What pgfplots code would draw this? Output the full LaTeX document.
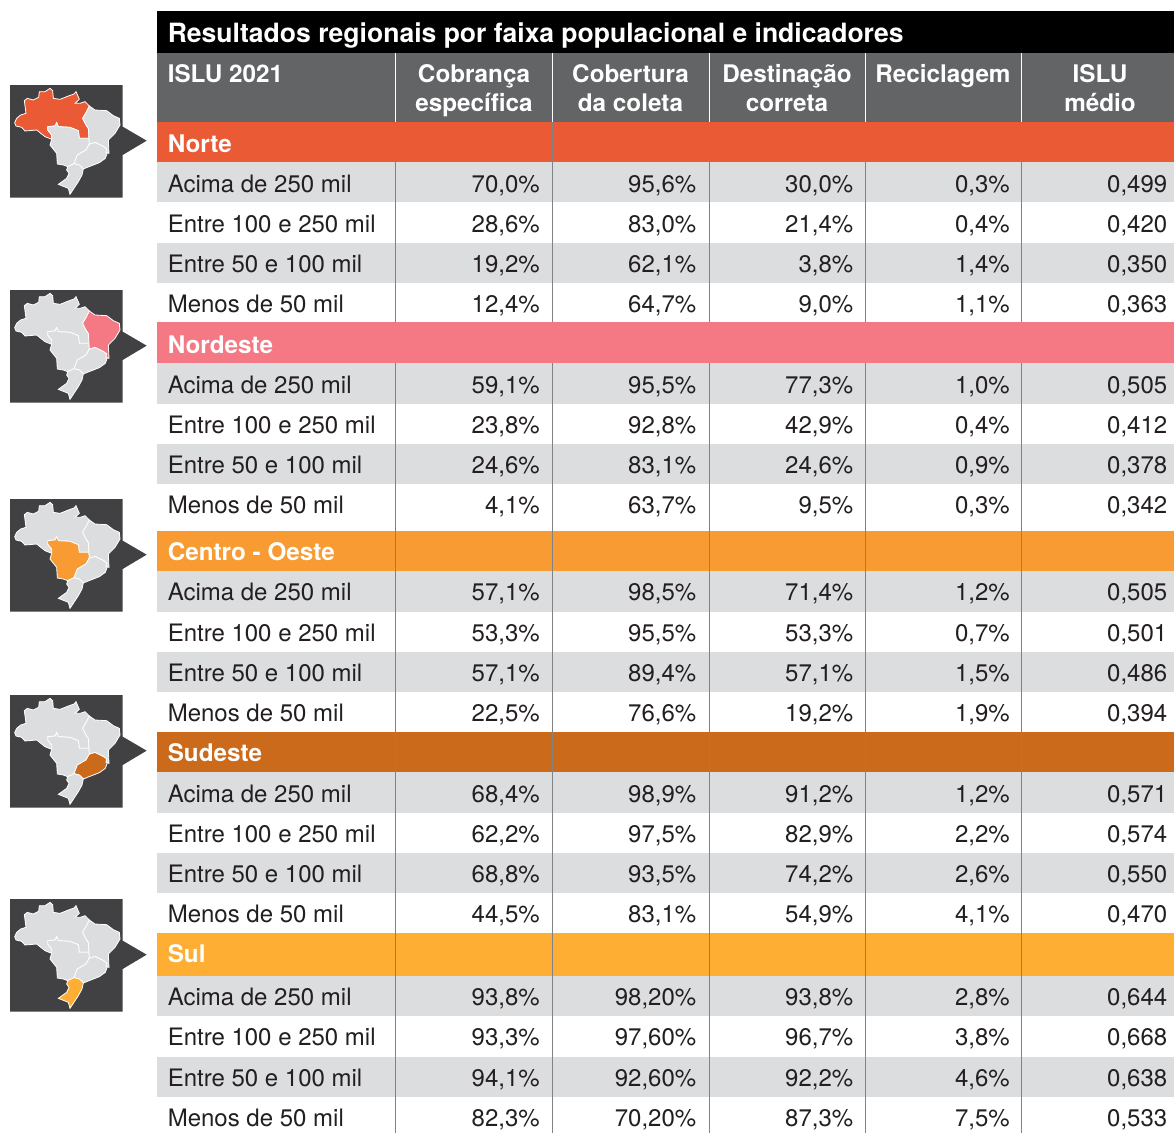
\documentclass[border=0pt]{standalone}
\usepackage{pgfplots}
\usepackage{pgfplotstable}
\usepackage{fontspec}
\setmainfont{TeX Gyre Heros}
\pgfplotsset{compat=1.18}

\definecolor{txt}{HTML}{231F20}
\definecolor{cinzaL}{HTML}{DCDDDF}
\definecolor{cinzaH}{HTML}{636466}
\definecolor{mapaBg}{HTML}{414042}
\definecolor{fio}{HTML}{808285}
\definecolor{norte}{HTML}{E95A35}
\definecolor{nordeste}{HTML}{F47984}
\definecolor{oeste}{HTML}{F99B33}
\definecolor{sudeste}{HTML}{CC6A1B}
\definecolor{sul}{HTML}{FDAE33}

% y = text baseline in pixels of the reference
\pgfplotstableread{
y faixa cob col dest rec islu
192 {Acima de 250 mil}   70.0 95.6 30.0 0.3 0.499
232 {Entre 100 e 250 mil} 28.6 83.0 21.4 0.4 0.420
272 {Entre 50 e 100 mil}  19.2 62.1 3.8 1.4 0.350
312 {Menos de 50 mil}    12.4 64.7 9.0 1.1 0.363
}\tnorte
\pgfplotstableread{
y faixa cob col dest rec islu
393 {Acima de 250 mil}   59.1 95.5 77.3 1.0 0.505
433 {Entre 100 e 250 mil} 23.8 92.8 42.9 0.4 0.412
473 {Entre 50 e 100 mil}  24.6 83.1 24.6 0.9 0.378
513 {Menos de 50 mil}    4.1 63.7 9.5 0.3 0.342
}\tnordeste
\pgfplotstableread{
y faixa cob col dest rec islu
600 {Acima de 250 mil}   57.1 98.5 71.4 1.2 0.505
641 {Entre 100 e 250 mil} 53.3 95.5 53.3 0.7 0.501
681 {Entre 50 e 100 mil}  57.1 89.4 57.1 1.5 0.486
721 {Menos de 50 mil}    22.5 76.6 19.2 1.9 0.394
}\toeste
\pgfplotstableread{
y faixa cob col dest rec islu
802 {Acima de 250 mil}   68.4 98.9 91.2 1.2 0.571
842 {Entre 100 e 250 mil} 62.2 97.5 82.9 2.2 0.574
882 {Entre 50 e 100 mil}  68.8 93.5 74.2 2.6 0.550
922 {Menos de 50 mil}    44.5 83.1 54.9 4.1 0.470
}\tsudeste
\pgfplotstableread{
y faixa cob col dest rec islu
1005 {Acima de 250 mil}   93.8 98.20 93.8 2.8 0.644
1045 {Entre 100 e 250 mil} 93.3 97.60 96.7 3.8 0.668
1086 {Entre 50 e 100 mil}  94.1 92.60 92.2 4.6 0.638
1126 {Menos de 50 mil}    82.3 70.20 87.3 7.5 0.533
}\tsul

\pgfplotstableread{
x y nome
167.5 152 Norte
167.5 353 Nordeste
167.5 560 {Centro - Oeste}
167.5 761 Sudeste
167.5 962 Sul
167.5 82.3 {ISLU 2021}
}\tfaixas
\pgfplotstableread{
x y nome
474 82.3 {Cobrança}
474 111.2 {específica}
630.5 82.3 {Cobertura}
630.5 111.2 {da coleta}
787 82.3 {Destinação}
787 111.2 {correta}
943 82.3 {Reciclagem}
1100 82.3 {ISLU}
1100 111.2 {médio}
}\tcabeca

% map outlines, in pixels of a 3x crop
\pgfplotstableread{
x y
30 45
368 45
368 170
440 212
368 255
368 383
30 383
}\mbox
\pgfplotstableread{
x y
44 158
50 145
62 135
78 130
73 92
82 85
100 90
116 82
118 65
135 65
150 55
158 62
160 85
180 88
205 78
222 72
228 65
238 88
225 100
240 100
255 95
268 108
258 128
248 145
258 165
265 175
267 205
238 205
235 182
210 172
175 170
170 158
165 168
143 170
143 180
155 195
155 208
135 200
110 180
75 183
65 172
48 168
}\mnorte
\pgfplotstableread{
x y
268 108
285 120
320 122
340 137
358 145
360 165
345 190
325 210
327 250
318 247
320 236
308 228
285 217
268 222
267 205
265 175
258 165
248 145
258 128
}\mnordeste
\pgfplotstableread{
x y
143 170
165 168
170 158
175 170
210 172
235 182
238 205
267 205
268 222
258 240
232 255
222 281
203 290
190 285
172 282
170 250
150 225
155 208
155 195
143 180
}\moeste
\pgfplotstableread{
x y
268 222
285 217
308 228
320 236
325 240
316 265
298 278
262 292
250 297
238 285
222 281
232 255
258 240
}\msudeste
\pgfplotstableread{
x y
203 290
222 281
238 285
250 297
246 315
235 335
210 373
205 355
175 343
200 325
207 310
200 300
}\msul

\pgfplotsset{
  rotulo/.style={only marks, mark=none, point meta=explicit symbolic,
    nodes near coords={\pgfplotspointmeta},
    every node near coord/.append style={inner sep=0pt, anchor=#1}},
  pct/.style={only marks, mark=none, point meta=explicit,
    nodes near coords={\pgfmathprintnumber[fixed,fixed zerofill,precision=#1,use comma,assume math mode=true]{\pgfplotspointmeta}\%},
    every node near coord/.append style={inner sep=0pt, anchor=base east, text=txt, font=\corpo}},
  ind/.style={only marks, mark=none, point meta=explicit,
    nodes near coords={\pgfmathprintnumber[fixed,fixed zerofill,precision=3,use comma,assume math mode=true]{\pgfplotspointmeta}},
    every node near coord/.append style={inner sep=0pt, anchor=base east, text=txt, font=\corpo}},
}
\newcommand{\corpo}{\fontsize{18}{20}\selectfont}
\newcommand{\negrito}{\fontsize{18.2}{20}\selectfont\bfseries}

\newcommand{\caixa}[5]{\addplot[fill=#5,draw=none] coordinates {(#1,#3) (#2,#3) (#2,#4) (#1,#4)} -- cycle;}
\newcommand{\fio}[4]{\addplot[draw=#4,line width=.75pt] coordinates {(#1,#2) (#1,#3)};}
\newcommand{\regiao}[2]{%
  \addplot[rotulo=base west, every node near coord/.append style={text=txt,font=\corpo}] table[x expr=167.5,y=y,meta=faixa] #1;
  \addplot[pct=1] table[x expr=540,y=y,meta=cob] #1;
  \addplot[pct=#2] table[x expr=696.5,y=y,meta=col] #1;
  \addplot[pct=1] table[x expr=853.5,y=y,meta=dest] #1;
  \addplot[pct=1] table[x expr=1010,y=y,meta=rec] #1;
  \addplot[ind] table[x expr=1167.5,y=y,meta=islu] #1;
}
\newcommand{\uf}[3]{\addplot[fill=#3,draw=white,line width=.6pt] table[x expr=\thisrow{x}/3,y expr=#1+(\thisrow{y}-45)/3] #2 -- cycle;}
\newcommand{\mapa}[6]{%
  \addplot[fill=mapaBg,draw=none] table[x expr=\thisrow{x}/3,y expr=#1+(\thisrow{y}-45)/3] \mbox -- cycle;
  \uf{#1}{\mnorte}{#2}
  \uf{#1}{\moeste}{#4}
  \uf{#1}{\msudeste}{#5}
  \uf{#1}{\mnordeste}{#3}
  \uf{#1}{\msul}{#6}
}

\begin{document}
\begin{tikzpicture}
\begin{axis}[
  scale only axis, width=880.5pt, height=849.75pt,
  xmin=0, xmax=1174, ymin=0, ymax=1133, y dir=reverse,
  hide axis, clip=false,
]
\caixa{0}{1174}{0}{1133}{white}
\caixa{157}{1174}{11}{53}{black}
\caixa{157}{1174}{53}{122}{cinzaH}
\caixa{157}{1174}{122}{162}{norte}
\caixa{157}{1174}{322}{363}{nordeste}
\caixa{157}{1174}{531}{571}{oeste}
\caixa{157}{1174}{732}{772}{sudeste}
\caixa{157}{1174}{933}{976}{sul}
% grey rows
\caixa{157}{1174}{162}{202}{cinzaL}
\caixa{157}{1174}{243}{283}{cinzaL}
\caixa{157}{1174}{363}{404}{cinzaL}
\caixa{157}{1174}{444}{484}{cinzaL}
\caixa{157}{1174}{571}{612}{cinzaL}
\caixa{157}{1174}{652}{692}{cinzaL}
\caixa{157}{1174}{772}{813}{cinzaL}
\caixa{157}{1174}{853}{893}{cinzaL}
\caixa{157}{1174}{976}{1016}{cinzaL}
\caixa{157}{1174}{1057}{1097}{cinzaL}
% column rules, the Nordeste band has none
\fio{395}{53}{122}{white}
\fio{552}{53}{122}{white}
\fio{709}{53}{122}{white}
\fio{865}{53}{122}{white}
\fio{1021}{53}{122}{white}
\fio{395}{122}{322}{fio}
\fio{552}{122}{322}{fio}
\fio{709}{122}{322}{fio}
\fio{865}{122}{322}{fio}
\fio{1021}{122}{322}{fio}
\fio{395}{363}{1133}{fio}
\fio{552}{363}{1133}{fio}
\fio{709}{363}{1133}{fio}
\fio{865}{363}{1133}{fio}
\fio{1021}{363}{1133}{fio}

\mapa{85}{norte}{cinzaL}{cinzaL}{cinzaL}{cinzaL}
\mapa{290}{cinzaL}{nordeste}{cinzaL}{cinzaL}{cinzaL}
\mapa{499}{cinzaL}{cinzaL}{oeste}{cinzaL}{cinzaL}
\mapa{695}{cinzaL}{cinzaL}{cinzaL}{sudeste}{cinzaL}
\mapa{899}{cinzaL}{cinzaL}{cinzaL}{cinzaL}{sul}

\addplot[rotulo=base west, every node near coord/.append style={text=white,font=\fontsize{19.9}{22}\selectfont\bfseries}]
  coordinates {(167.5,42.5)[{Resultados regionais por faixa populacional e indicadores}]};
\addplot[rotulo=base west, every node near coord/.append style={text=white,font=\negrito}]
  table[x=x,y=y,meta=nome] \tfaixas;
\addplot[rotulo=base, every node near coord/.append style={text=white,font=\negrito}]
  table[x=x,y=y,meta=nome] \tcabeca;

\regiao{\tnorte}{1}
\regiao{\tnordeste}{1}
\regiao{\toeste}{1}
\regiao{\tsudeste}{1}
\regiao{\tsul}{2}
\end{axis}
\end{tikzpicture}
\end{document}
